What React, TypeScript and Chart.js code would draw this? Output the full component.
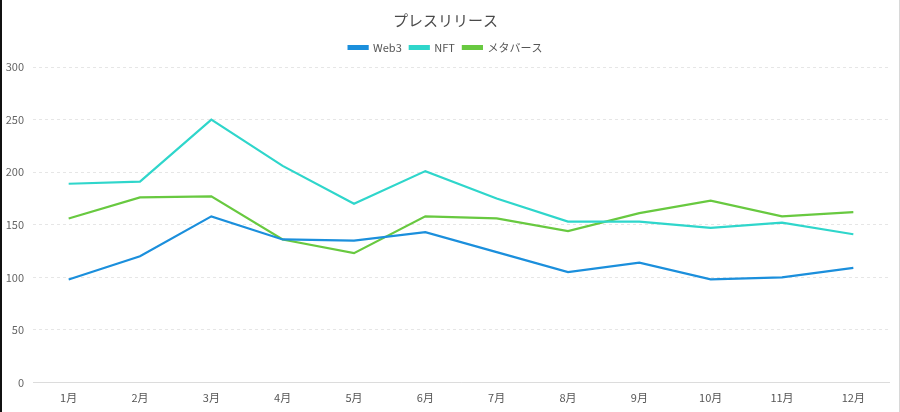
import React, { useEffect, useRef } from "react";
import { Chart, registerables } from "chart.js";

Chart.register(...registerables);

const categories = ["1月", "2月", "3月", "4月", "5月", "6月", "7月", "8月", "9月", "10月", "11月", "12月"];
const web3Values = [98, 120, 158, 136, 135, 143, 124, 105, 114, 98, 100, 109];
const nftValues = [189, 191, 250, 206, 170, 201, 175, 153, 153, 147, 152, 141];
const metaverseValues = [156, 176, 177, 136, 123, 158, 156, 144, 161, 173, 158, 162];
const seriesNames = ["Web3", "NFT", "メタバース"];
const titleText = "プレスリリース";

const FONT = "'Noto Sans CJK JP', 'Noto Sans', sans-serif";

const legendMargin = {
  id: "legendMargin",
  beforeInit(chart: any) {
    const legend = chart.legend;
    if (!legend) return;
    const origFit = legend.fit;
    legend.fit = function fit() {
      origFit.bind(legend)();
      this.height += 4;
    };
  },
};

export default function App() {
  const ref = useRef<HTMLCanvasElement | null>(null);

  useEffect(() => {
    if (!ref.current) return;
    const colors = ["#1b8fdc", "#2fd6cb", "#68c940"];
    const chart = new Chart(ref.current, {
      type: "line",
      data: {
        labels: categories,
        datasets: [web3Values, nftValues, metaverseValues].map((vals, i) => ({
          label: seriesNames[i],
          data: vals,
          borderColor: colors[i],
          backgroundColor: colors[i],
          borderWidth: 2.2,
          pointRadius: 0,
          pointHoverRadius: 0,
          tension: 0,
          fill: false,
        })),
      },
      plugins: [legendMargin],
      options: {
        animation: false,
        responsive: false,
        maintainAspectRatio: false,
        layout: { padding: { left: 0, right: 10, top: 0, bottom: 0 } },
        plugins: {
          title: {
            display: true,
            text: titleText,
            color: "#4a4a4a",
            font: { family: FONT, size: 15, weight: "normal" },
            padding: { top: 11, bottom: 5 },
          },
          legend: {
            display: true,
            labels: {
              boxWidth: 19,
              boxHeight: 3,
              color: "#555",
              padding: 8,
              font: { family: FONT, size: 11 },
            },
          },
          tooltip: { enabled: false },
        },
        scales: {
          x: {
            offset: true,
            grid: { display: false, drawTicks: false },
            border: { display: true, color: "#dcdcdc", width: 1 },
            ticks: {
              color: "#555",
              font: { family: FONT, size: 11 },
              padding: 9,
              maxRotation: 0,
            },
            afterFit: (s: any) => {
              s.height = 29.5;
            },
          },
          y: {
            min: 0,
            max: 300,
            grid: { color: "#e6e6e6", drawTicks: false, lineWidth: 1 },
            border: { display: false, dash: [3, 3] },
            ticks: {
              stepSize: 50,
              color: "#666",
              font: { family: FONT, size: 11 },
              padding: 9,
            },
            afterFit: (s: any) => {
              s.width = 31;
            },
          },
        },
      },
    });
    return () => chart.destroy();
  }, []);

  return (
    <div
      style={{
        position: "fixed",
        left: 0,
        top: 0,
        width: 900,
        height: 412,
        boxSizing: "border-box",
        borderLeft: "2px solid #111",
        borderRight: "1px solid #d8d8d8",
        background: "#fff",
      }}
    >
      <canvas ref={ref} width={897} height={412} style={{ display: "block", width: 897, height: 412 }} />
    </div>
  );
}
